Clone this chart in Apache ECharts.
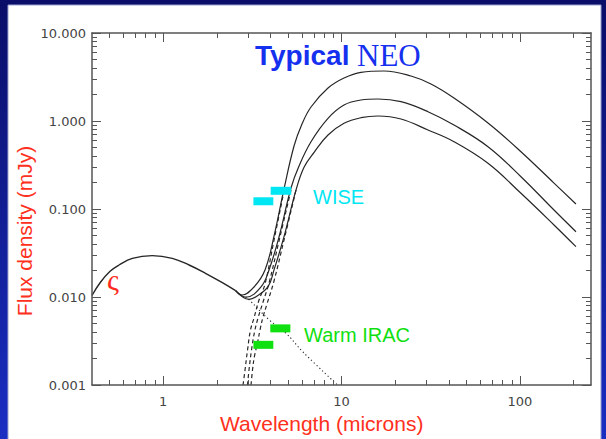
<!DOCTYPE html>
<html><head><meta charset="utf-8">
<script src="https://cdn.jsdelivr.net/npm/echarts@6/dist/echarts.min.js"></script>
<style>html,body{margin:0;padding:0;background:#fff}#c{width:606px;height:439px}</style>
</head><body><div id="c"></div>
<script>
// ---------- data ----------
const xMajorTicks = [1, 10, 100];
const xMinorTicks = [0.5,0.6,0.7,0.8,0.9,2,3,4,5,6,7,8,9,20,30,40,50,60,70,80,90,200];
const yTickValues = [0.001, 0.01, 0.1, 1, 10];
const yTickLabels = ['0.001', '0.010', '0.100', '1.000', '10.000'];
const yMinorTicks = [0.002,0.003,0.004,0.005,0.006,0.007,0.008,0.009,
                     0.02,0.03,0.04,0.05,0.06,0.07,0.08,0.09,
                     0.2,0.3,0.4,0.5,0.6,0.7,0.8,0.9,
                     2,3,4,5,6,7,8,9];

// reflected sunlight (solid part)
const humpX = [0.40, 0.445, 0.505, 0.567, 0.673, 0.87, 1.127, 1.40, 1.73, 2.15, 2.55];
const humpY = [0.0104, 0.0146, 0.0196, 0.0231, 0.0275, 0.0295, 0.0275, 0.0231, 0.0186, 0.01454, 0.0118];
// reflected sunlight continuation (dotted)
const reflX = [2.906, 3.044, 3.94, 4.89, 6.06, 9.5];
const reflY = [0.0101, 0.00925, 0.00548, 0.00387, 0.00239, 0.001];

// total curves (solid)
const totAX = [2.55, 2.771, 3.234, 3.728, 4.187, 4.763, 5.420, 6.007, 6.747, 8.403, 10.33, 12.86, 17.30, 24.51, 31.72, 42.69, 66.2, 101.3, 155.1, 205.9];
const totAY = [0.0118, 0.01054, 0.0130, 0.0203, 0.0493, 0.1688, 0.520, 0.924, 1.443, 2.371, 3.081, 3.576, 3.70, 3.25, 2.634, 1.825, 0.949, 0.448, 0.197, 0.114];
const totBX = [2.55, 2.917, 3.540, 3.925, 4.466, 5.213, 5.780, 6.747, 8.403, 10.33, 12.86, 16.01, 21.54, 30.52, 42.69, 66.2, 101.3, 155.1, 205.9];
const totBY = [0.0118, 0.00993, 0.0130, 0.0203, 0.0481, 0.1733, 0.308, 0.5817, 1.073, 1.520, 1.732, 1.778, 1.657, 1.276, 0.901, 0.5105, 0.2328, 0.0974, 0.0552];
const totCX = [2.55, 3.032, 3.319, 3.875, 4.187, 4.763, 5.561, 6.176, 7.041, 8.403, 10.33, 12.86, 16.01, 21.54, 30.52, 42.69, 66.2, 101.3, 155.1, 205.9];
const totCY = [0.0118, 0.00942, 0.01008, 0.0131, 0.0203, 0.0485, 0.1644, 0.300, 0.444, 0.693, 0.942, 1.090, 1.140, 1.054, 0.790, 0.5817, 0.3306, 0.1508, 0.0658, 0.0373];

// thermal-only curves (dashed)
const thAX = [2.807, 2.880, 2.975, 3.091, 3.234, 3.450, 3.728, 4.187, 4.763];
const thAY = [0.001, 0.00148, 0.0025, 0.00422, 0.00577, 0.00925, 0.01406, 0.0444, 0.160];
const thBX = [2.975, 3.032, 3.132, 3.255, 3.406, 3.633, 3.925, 4.466, 5.213];
const thBY = [0.001, 0.00148, 0.0025, 0.0040, 0.00577, 0.00877, 0.01442, 0.0433, 0.1644];
const thCX = [3.112, 3.172, 3.255, 3.383, 3.494, 3.633, 3.824, 4.187, 4.763, 5.561];
const thCY = [0.001, 0.00148, 0.00214, 0.0030, 0.00422, 0.00593, 0.00833, 0.0152, 0.0444, 0.1644];

// instrument bands: [xStart, xEnd, flux]
const wiseBands = [[3.21, 4.15, 0.1224], [4.01, 5.23, 0.161]];
const iracBands = [[3.99, 5.17, 0.0044], [3.21, 4.15, 0.00286]];

// ---------- chart ----------
const pairs = (xs, ys) => xs.map((x, i) => [x, ys[i]]);
const chart = echarts.init(document.getElementById('c'), null, {renderer: 'svg'});
const AXC = '#555';
const sansF = '"Liberation Sans", Arial, Helvetica, sans-serif';
const tickF = '"DejaVu Sans", Verdana, sans-serif';

function xAx(pos, ticks, len, showLine, showLabel) {
  return {
    type: 'log', min: 0.4, max: 250, position: pos, z: 10,
    axisLine: {show: showLine, onZero: false, lineStyle: {color: AXC, width: 1.5}},
    axisTick: {show: true, inside: true, length: len, customValues: ticks, lineStyle: {color: AXC, width: 1}},
    axisLabel: showLabel ? {show: true, customValues: xMajorTicks, margin: 10, color: '#444',
      fontFamily: tickF, fontSize: 13, formatter: v => String(Math.round(v))} : {show: false},
    splitLine: {show: false}
  };
}
function yAx(pos, ticks, len, showLine, showLabel) {
  return {
    type: 'log', min: 0.001, max: 10, position: pos, z: 10,
    axisLine: {show: showLine, onZero: false, lineStyle: {color: AXC, width: 1.5}},
    axisTick: {show: true, inside: true, length: len, customValues: ticks, lineStyle: {color: AXC, width: 1}},
    axisLabel: showLabel ? {show: true, customValues: yTickValues, margin: 6, color: '#444',
      fontFamily: tickF, fontSize: 13,
      formatter: v => {
        let best = 0, bd = 1e9;
        yTickValues.forEach((t, i) => { const d = Math.abs(Math.log10(t) - Math.log10(v)); if (d < bd) { bd = d; best = i; } });
        return yTickLabels[best];
      }} : {show: false},
    splitLine: {show: false}
  };
}

function curve(name, xs, ys, type, width) {
  return {
    name, type: 'line', xAxisIndex: 0, yAxisIndex: 0, data: pairs(xs, ys),
    smooth: 0.4, symbol: 'none', silent: true, z: 3,
    lineStyle: {color: '#262626', width: width, type: type}
  };
}
function band(name, b, color) {
  return {
    name, type: 'line', xAxisIndex: 0, yAxisIndex: 0, data: [[b[0], b[2]], [b[1], b[2]]],
    symbol: 'none', silent: true, z: 5,
    lineStyle: {color: color, width: 8, cap: 'butt'}
  };
}

const series = [
  curve('reflected', humpX, humpY, 'solid', 1.4),
  curve('reflected tail', reflX, reflY, [1.2, 2.6], 1.1),
  curve('total A', totAX, totAY, 'solid', 1.2),
  curve('total B', totBX, totBY, 'solid', 1.2),
  curve('total C', totCX, totCY, 'solid', 1.2),
  curve('thermal A', thAX, thAY, [4, 3], 1.2),
  curve('thermal B', thBX, thBY, [4, 3], 1.2),
  curve('thermal C', thCX, thCY, [4, 3], 1.2)
];
wiseBands.forEach((b, i) => series.push(band('WISE ' + (i + 1), b, '#00e6f2')));
iracBands.forEach((b, i) => series.push(band('IRAC ' + (i + 1), b, '#10e010')));

chart.setOption({
  animation: false,
  grid: {left: 92, right: 15, top: 33, bottom: 54, outerBoundsMode: 'none'},
  xAxis: [
    xAx('bottom', xMajorTicks, 9, true, true),
    xAx('bottom', xMinorTicks, 5, false, false),
    xAx('top', xMajorTicks, 9, true, false),
    xAx('top', xMinorTicks, 5, false, false)
  ],
  yAxis: [
    yAx('left', yTickValues, 9, true, true),
    yAx('left', yMinorTicks, 5, false, false),
    yAx('right', yTickValues, 9, true, false),
    yAx('right', yMinorTicks, 5, false, false)
  ],
  series: series,
  graphic: [
    {type: 'rect', z: -100, silent: true, shape: {x: 0, y: 0, width: 606, height: 439},
     style: {fill: new echarts.graphic.LinearGradient(0, 0, 0, 1, [{offset: 0, color: '#0a0e68'}, {offset: 1, color: '#1a2ec2'}])}},
    {type: 'rect', z: -99, silent: true, shape: {x: 8, y: 5, width: 593, height: 440},
     style: {fill: '#ffffff', stroke: '#9ba2d0', lineWidth: 1}},
    {type: 'text', z: 10, x: 255, y: 55, style: {text: 'Typical', fill: '#1530ee', verticalAlign: 'middle',
      font: 'bold 28px ' + sansF}},
    {type: 'text', z: 10, x: 357, y: 55, style: {text: 'NEO', fill: '#1530ee', verticalAlign: 'middle',
      font: '31px "Liberation Serif", "Times New Roman", serif'}},
    {type: 'text', z: 10, left: 313, top: 187, style: {text: 'WISE', fill: '#00e6f2', font: '20px ' + sansF}},
    {type: 'text', z: 10, left: 304, top: 325, style: {text: 'Warm IRAC', fill: '#10e010', font: '20px ' + sansF}},
    {type: 'text', z: 10, x: 113, y: 279, style: {text: 'ς', fill: '#ff2a20', align: 'center', verticalAlign: 'middle',
      font: '30px "Liberation Serif", serif'}},
    {type: 'text', z: 10, left: 220, top: 413, style: {text: 'Wavelength (microns)', fill: '#ff3020', font: '21px ' + sansF}},
    {type: 'text', z: 10, x: 14, y: 231, rotation: Math.PI / 2, silent: true,
     style: {text: 'Flux density (mJy)', fill: '#ff3020', font: '21px ' + sansF, align: 'center', verticalAlign: 'top'}}
  ]
});
</script></body></html>
